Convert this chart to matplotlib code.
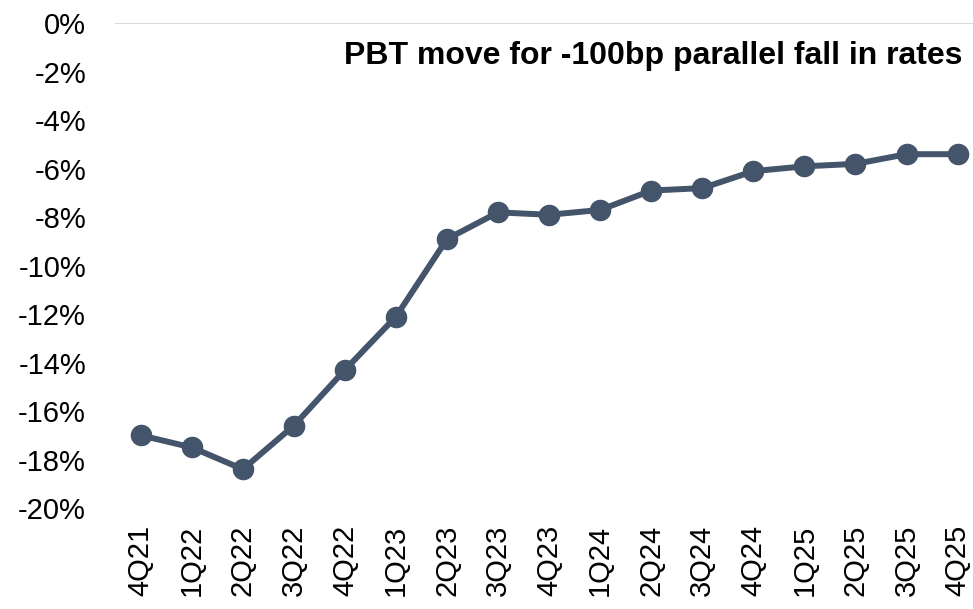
import matplotlib
matplotlib.use("Agg")
import matplotlib.pyplot as plt
from matplotlib.ticker import FuncFormatter

plt.rcParams['font.family'] = ['Liberation Sans', 'DejaVu Sans']

# Data
quarters = ['4Q21', '1Q22', '2Q22', '3Q22', '4Q22', '1Q23', '2Q23', '3Q23', '4Q23',
            '1Q24', '2Q24', '3Q24', '4Q24', '1Q25', '2Q25', '3Q25', '4Q25']
pbt_move = [-17.0, -17.5, -18.4, -16.6, -14.3, -12.1, -8.9, -7.8, -7.9,
            -7.7, -6.9, -6.8, -6.1, -5.9, -5.8, -5.4, -5.4]

line_col = '#44546A'

fig = plt.figure(figsize=(9.73, 6.09), dpi=100)
ax = fig.add_axes([0.1184, 0.1658, 0.892, 0.7959])

x = range(len(quarters))
ax.plot(x, pbt_move, color=line_col, lw=4.3, marker='o', markersize=14.5,
        solid_capstyle='round', zorder=3)
ax.axhline(0, color='#D9D9D9', lw=1.5, zorder=1)

ax.set_xlim(-0.5, len(quarters) - 0.5)
ax.set_ylim(-20, 0)
ax.set_yticks(range(-20, 1, 2))
ax.yaxis.set_major_formatter(FuncFormatter(lambda v, p: f'{v:.0f}%'))
ax.set_xticks(list(x))
ax.set_xticklabels(quarters, rotation=90)

for s in ax.spines.values():
    s.set_visible(False)
ax.tick_params(axis='both', length=0, labelsize=21)
ax.tick_params(axis='y', pad=21)
ax.tick_params(axis='x', pad=12)

fig.text(0.9897, 0.908, 'PBT move for -100bp parallel fall in rates',
         ha='right', va='center', fontsize=23, fontweight='bold')

fig.savefig('out.png', dpi=100)
